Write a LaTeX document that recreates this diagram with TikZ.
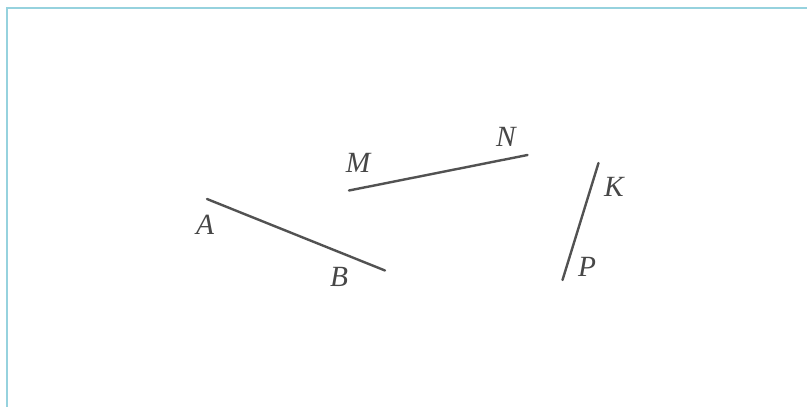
\documentclass[tikz,border=0pt]{standalone}
\usepackage{fontspec}
\setmainfont{Liberation Serif}
\definecolor{framecol}{RGB}{150,210,222}
\begin{document}
\begin{tikzpicture}[x=0.75pt,y=-0.75pt,
  seg/.style={draw=black!68,line width=1.8pt,line cap=round},
  lbl/.style={font=\fontsize{22}{26}\selectfont\itshape,text=black!72,inner sep=0pt},
  frame/.style={draw=framecol,line width=1.2pt}]
\useasboundingbox (0,0) rectangle (807,407);
\fill[white] (0,0) rectangle (807,407);
\coordinate (f0) at (7,407);
\coordinate (f1) at (7,8);
\coordinate (f2) at (807,8);
\draw[frame] (f0) -- (f1) -- (f2);
\coordinate (a) at (207,199);
\coordinate (b) at (385,270.5);
\coordinate (m) at (349,190.5);
\coordinate (n) at (527.5,155);
\coordinate (k) at (598.5,163);
\coordinate (p) at (562.5,280);
\draw[seg] (a) -- (b);
\draw[seg] (m) -- (n);
\draw[seg] (k) -- (p);
\node[lbl] (la) at (205,225) {A};
\node[lbl] (lb) at (339,277) {B};
\node[lbl] (lm) at (358,163) {M};
\node[lbl] (ln) at (506,137) {N};
\node[lbl] (lk) at (614,187) {K};
\node[lbl] (lp) at (587,267) {P};
\end{tikzpicture}
\end{document}
